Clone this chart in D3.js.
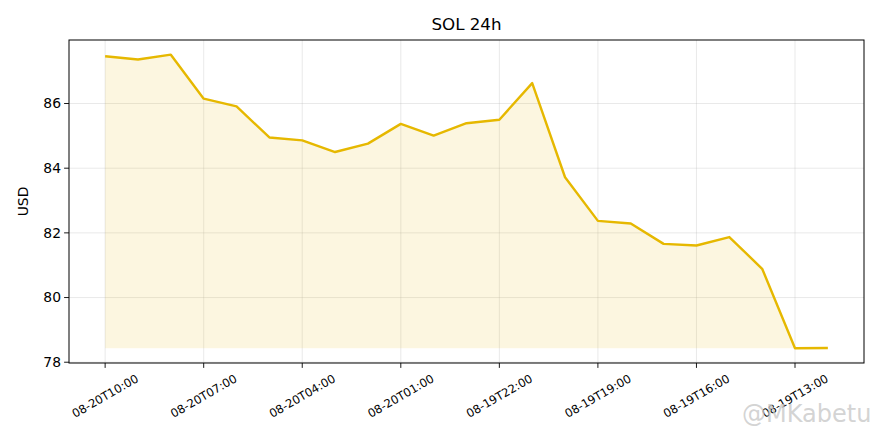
<!DOCTYPE html>
<html><head><meta charset="utf-8">
<script src="https://cdn.jsdelivr.net/npm/d3@7/dist/d3.min.js"></script>
<style>body{margin:0;background:#fff}svg{display:block}text{font-family:"DejaVu Sans",sans-serif}</style>
</head><body><svg id="c" width="880" height="440"></svg>
<script>
const times = ["08-20T10:00","08-20T09:00","08-20T08:00","08-20T07:00","08-20T06:00","08-20T05:00","08-20T04:00","08-20T03:00","08-20T02:00","08-20T01:00","08-20T00:00","08-19T23:00","08-19T22:00","08-19T21:00","08-19T20:00","08-19T19:00","08-19T18:00","08-19T17:00","08-19T16:00","08-19T15:00","08-19T14:00","08-19T13:00","08-19T12:00"];
const prices = [87.46,87.36,87.51,86.15,85.91,84.95,84.86,84.50,84.76,85.37,85.01,85.39,85.50,86.63,83.72,82.37,82.29,81.66,81.61,81.87,80.89,78.43,78.44];
const yTicks = [78,80,82,84,86];
const xTickIdx = [0,3,6,9,12,15,18,21];

const svg = d3.select("#c");
const L=69,R=864,T=40,B=363;
const n = prices.length;
const mx = (n-1)*0.05;
const x = d3.scaleLinear().domain([-mx, n-1+mx]).range([L,R]);
const ymin=d3.min(prices), ymax=d3.max(prices), my=(ymax-ymin)*0.05;
const y = d3.scaleLinear().domain([ymin-my, ymax+my]).range([B,T]);

// grid
const g = svg.append("g");
g.selectAll("line.gy").data(yTicks).join("line")
  .attr("x1",L).attr("x2",R).attr("y1",d=>y(d)).attr("y2",d=>y(d))
  .attr("stroke","#b0b0b0").attr("stroke-opacity",0.35).attr("stroke-width",0.8);
g.selectAll("line.gx").data(xTickIdx).join("line")
  .attr("y1",T).attr("y2",B).attr("x1",d=>x(d)).attr("x2",d=>x(d))
  .attr("stroke","#b0b0b0").attr("stroke-opacity",0.35).attr("stroke-width",0.8);

// area
const area = d3.area().x((d,i)=>x(i)).y0(y(ymin)).y1(d=>y(d));
svg.append("path").datum(prices).attr("d",area).attr("fill","#e6b800").attr("fill-opacity",0.12);
const line = d3.line().x((d,i)=>x(i)).y(d=>y(d));
svg.append("path").datum(prices).attr("d",line).attr("fill","none")
  .attr("stroke","#e6b800").attr("stroke-width",2.4).attr("stroke-linejoin","round");

// frame
svg.append("rect").attr("x",L).attr("y",T).attr("width",R-L).attr("height",B-T)
  .attr("fill","none").attr("stroke","#000").attr("stroke-width",1);

// y axis
const ya = svg.append("g");
yTicks.forEach(v=>{
  ya.append("line").attr("x1",L-4.9).attr("x2",L).attr("y1",y(v)).attr("y2",y(v)).attr("stroke","#000").attr("stroke-width",0.9);
  ya.append("text").attr("x",L-8).attr("y",y(v)).attr("dy","0.35em").attr("text-anchor","end")
    .attr("font-size",13.9).attr("fill","#000").text(v);
});
svg.append("text").attr("transform",`translate(28,${(T+B)/2}) rotate(-90)`).attr("text-anchor","middle")
  .attr("font-size",13.9).text("USD");

// x axis
const xa = svg.append("g");
xTickIdx.forEach(i=>{
  xa.append("line").attr("x1",x(i)).attr("x2",x(i)).attr("y1",B).attr("y2",B+4.9).attr("stroke","#000").attr("stroke-width",0.9);
  xa.append("text").attr("transform",`translate(${x(i)},${B+33}) rotate(-30)`)
    .attr("text-anchor","middle").attr("dy","0.35em").attr("font-size",11.6).text(times[i]);
});

// title
svg.append("text").attr("x",(L+R)/2).attr("y",T-10).attr("text-anchor","middle").attr("font-size",16.7).text("SOL 24h");

// watermark
svg.append("text").attr("x",742).attr("y",422).attr("font-size",24).attr("fill","#c8c8c8").attr("fill-opacity",0.8).text("@MKabetu");
</script></body></html>
